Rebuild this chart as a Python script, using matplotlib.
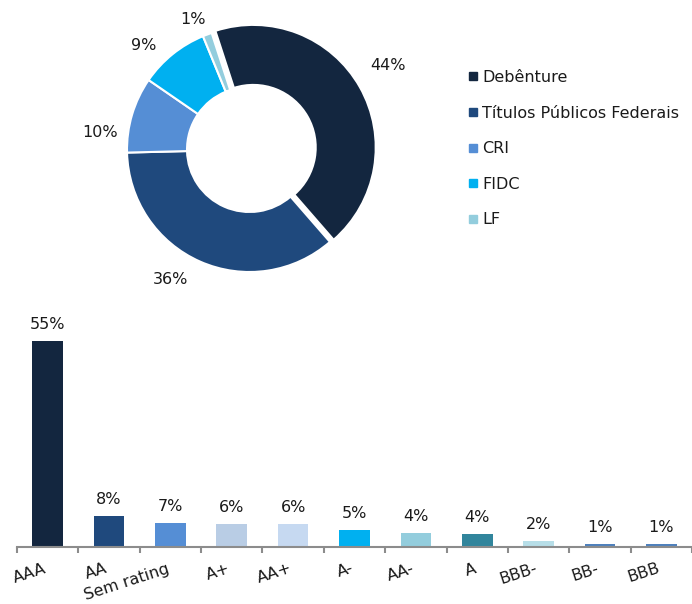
import numpy as np
import matplotlib
matplotlib.use("Agg")
import matplotlib.pyplot as plt
from matplotlib.lines import Line2D
import matplotlib.transforms as mtransforms

# ---------------- data ----------------
pie_labels = ["Debênture", "Títulos Públicos Federais", "CRI", "FIDC", "LF"]
pie_values = [43.6, 36.0, 10.0, 9.2, 1.2]
pie_texts = ["44%", "36%", "10%", "9%", "1%"]
pie_colors = ["#13263F", "#1F497D", "#558ED5", "#00B0F0", "#93CDDD"]

bar_categories = ["AAA", "AA", "Sem rating", "A+", "AA+", "A-", "AA-", "A", "BBB-", "BB-", "BBB"]
bar_values = [55.0, 8.3, 6.4, 6.2, 6.2, 4.6, 3.8, 3.5, 1.7, 0.9, 0.7]
bar_texts = ["55%", "8%", "7%", "6%", "6%", "5%", "4%", "4%", "2%", "1%", "1%"]
bar_colors = ["#13263F", "#1F497D", "#558ED5", "#B9CDE5", "#C6D9F1", "#00B0F0",
              "#93CDDD", "#31859C", "#B7DEE8", "#4F81BD", "#4F81BD"]

# label placement nudges (pixels) for the donut labels, Excel "best fit" style
pie_label_nudge = [(5, -9), (-17, -10), (-3, 27), (-10, 15), (-4, 14)]

TXT = "#1a1a1a"
FS = 11.5
plt.rcParams["font.family"] = ["DejaVu Sans"]
plt.rcParams["font.size"] = FS

W, H = 692, 604
fig = plt.figure(figsize=(W / 100, H / 100), dpi=100)

# ---------------- donut ----------------
cx, cy, R = 249.5, 149.5, 122.5
L = 1.5
axp = fig.add_axes([(cx - R * L) / W, (H - cy - R * L) / H, 2 * R * L / W, 2 * R * L / H])
explode = [0.035, 0, 0, 0, 0]
wedges, _ = axp.pie(pie_values, colors=pie_colors, startangle=108, counterclock=False,
                    radius=1.0, explode=explode,
                    wedgeprops=dict(width=0.49, edgecolor="white", linewidth=1.5))
axp.set_xlim(-L, L)
axp.set_ylim(-L, L)
axp.set_aspect("equal")
axp.axis("off")
for w, t, (nx, ny) in zip(wedges, pie_texts, pie_label_nudge):
    th = np.deg2rad((w.theta1 + w.theta2) / 2)
    d = 1.25
    tr = axp.transData + mtransforms.ScaledTranslation(nx / 100, -ny / 100, fig.dpi_scale_trans)
    axp.text(d * np.cos(th), d * np.sin(th), t, ha="center", va="center",
             color=TXT, fontsize=FS, transform=tr)

handles = [Line2D([], [], marker="s", linestyle="none", markersize=6, color=c) for c in pie_colors]
fig.legend(handles, pie_labels, loc="upper left",
           bbox_to_anchor=(467.6 / W, (H - 70) / H), frameon=False,
           borderpad=0, borderaxespad=0, handlelength=0.68, handletextpad=0.25,
           labelspacing=1.29, fontsize=FS, labelcolor=TXT)

# ---------------- bars ----------------
base_y = 547
left = 17
ymax = 60
px_per = 206 / 55
axh = ymax * px_per
axb = fig.add_axes([left / W, (H - base_y) / H, (W - left) / W, axh / H])
x = np.arange(len(bar_values))
axb.bar(x, bar_values, width=0.5, color=bar_colors)
axb.set_xlim(-0.5, len(bar_values) - 0.5)
axb.set_ylim(0, ymax)
for xi, v, t in zip(x, bar_values, bar_texts):
    axb.annotate(t, (xi, v), xytext=(0, 6.5), textcoords="offset points",
                 ha="center", va="bottom", color=TXT, fontsize=FS)
for s in ["top", "right", "left"]:
    axb.spines[s].set_visible(False)
axb.spines["bottom"].set_color("#8c8c8c")
axb.spines["bottom"].set_linewidth(1.5)
axb.set_yticks([])
axb.set_xticks(x)
axb.set_xticklabels(bar_categories, rotation=18, ha="right", rotation_mode="anchor",
                    color=TXT, fontsize=FS)
axb.tick_params(axis="x", which="major", length=0, pad=10)
axb.set_xticks(np.arange(-0.5, len(bar_values) + 0.5, 1.0), minor=True)
axb.tick_params(axis="x", which="minor", length=4, width=1.5, color="#8c8c8c")
off = mtransforms.ScaledTranslation(-4 / 100, 0, fig.dpi_scale_trans)
for lab in axb.get_xticklabels():
    lab.set_transform(lab.get_transform() + off)

fig.savefig("out.png", dpi=100)
